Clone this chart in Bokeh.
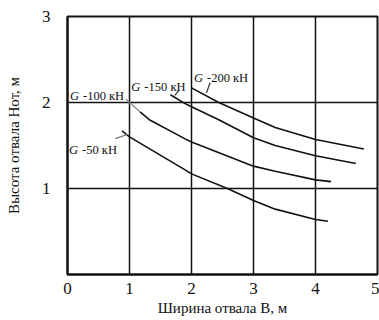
from bokeh.plotting import figure
from bokeh.models import Range1d, FixedTicker, ColumnDataSource
from bokeh.embed import file_html
from bokeh.resources import INLINE
from bokeh.core.properties import value

# ---- data ----
x_ticks = [0, 1, 2, 3, 4, 5]
y_ticks = [1, 2, 3]

g200_x = [2.00, 2.44, 3.00, 3.35, 4.00, 4.78]
g200_y = [2.17, 2.00, 1.82, 1.71, 1.57, 1.46]
g150_x = [1.66, 1.89, 2.00, 2.44, 3.00, 3.35, 4.00, 4.65]
g150_y = [2.09, 1.99, 1.95, 1.80, 1.59, 1.50, 1.38, 1.29]
g100_x = [1.17, 1.32, 1.89, 2.00, 3.00, 3.35, 4.00, 4.25]
g100_y = [1.89, 1.80, 1.58, 1.54, 1.26, 1.20, 1.10, 1.08]
g50_x = [0.88, 1.00, 1.89, 2.00, 2.58, 3.00, 3.35, 4.00, 4.20]
g50_y = [1.67, 1.60, 1.22, 1.17, 1.00, 0.86, 0.76, 0.64, 0.62]

label_g = ["G", "G", "G", "G"]
label_rest = ["-200 кН", "-150 кН", "-100 кН", "-50 кН"]
label_x = [2.04, 1.03, 0.04, 0.025]
label_y = [2.29, 2.18, 2.07, 1.45]

leader_xs = [[2.30, 2.24], [1.80, 1.73], [0.94, 1.17], [0.77, 0.97]]
leader_ys = [[2.23, 2.11], [2.145, 2.084], [2.04, 1.89], [1.58, 1.63]]
leader_colors = ["#333333", "#333333", "#8a8a8a", "#7a7a7a"]

x_title = "Ширина отвала В, м"
y_title = "Высота отвала Нот, м"

FONT = "Liberation Serif"

p = figure(width=379, height=320, output_backend="svg", toolbar_location=None,
           x_range=Range1d(0, 5), y_range=Range1d(0, 3),
           min_border_left=67, min_border_right=2, min_border_top=16, min_border_bottom=46)
p.background_fill_color = "white"
p.border_fill_color = "white"
p.outline_line_color = "#111111"
p.outline_line_width = 2
p.outline_line_alpha = 1

for ax, ticks in ((p.xaxis, x_ticks), (p.yaxis, y_ticks)):
    ax.ticker = FixedTicker(ticks=ticks)
    ax.major_label_text_font = FONT
    ax.major_label_text_font_size = "17px"
    ax.major_label_text_color = "#111111"
    ax.major_tick_out = 0
    ax.major_tick_in = 0
    ax.minor_tick_out = 0
    ax.minor_tick_in = 0
    ax.axis_line_color = "#111111"
    ax.axis_line_width = 2
    ax.axis_label_text_font = FONT
    ax.axis_label_text_font_size = "15px"
    ax.axis_label_text_font_style = "normal"
    ax.axis_label_text_color = "#111111"

p.xaxis.axis_label = x_title
p.yaxis.axis_label = y_title
p.xaxis.major_label_standoff = 8
p.xaxis.axis_label_standoff = 3
p.yaxis.major_label_standoff = 17
p.yaxis.axis_label_standoff = 17

p.xgrid.ticker = FixedTicker(ticks=x_ticks)
p.ygrid.ticker = FixedTicker(ticks=y_ticks)
for g in (p.xgrid, p.ygrid):
    g.grid_line_color = "#111111"
    g.grid_line_width = 1.5
    g.grid_line_alpha = 1

for xs, ys in ((g200_x, g200_y), (g150_x, g150_y), (g100_x, g100_y), (g50_x, g50_y)):
    p.line(xs, ys, line_color="#111111", line_width=1.6)

p.multi_line(xs="xs", ys="ys", line_color="color", line_width=1.2,
             source=ColumnDataSource(dict(xs=leader_xs, ys=leader_ys, color=leader_colors)))

lab = ColumnDataSource(dict(x=label_x, y=label_y, g=label_g, t=label_rest))
p.text(x="x", y="y", text="g", source=lab, text_font=value(FONT), text_font_size="12.5px",
       text_font_style="italic", text_color="#111111", text_baseline="alphabetic", text_align="left")
p.text(x="x", y="y", text="t", source=lab, text_font=value(FONT), text_font_size="12.5px",
       text_color="#111111", text_baseline="alphabetic", text_align="left", x_offset=13)

open("out.html", "w").write(file_html(p, INLINE))
